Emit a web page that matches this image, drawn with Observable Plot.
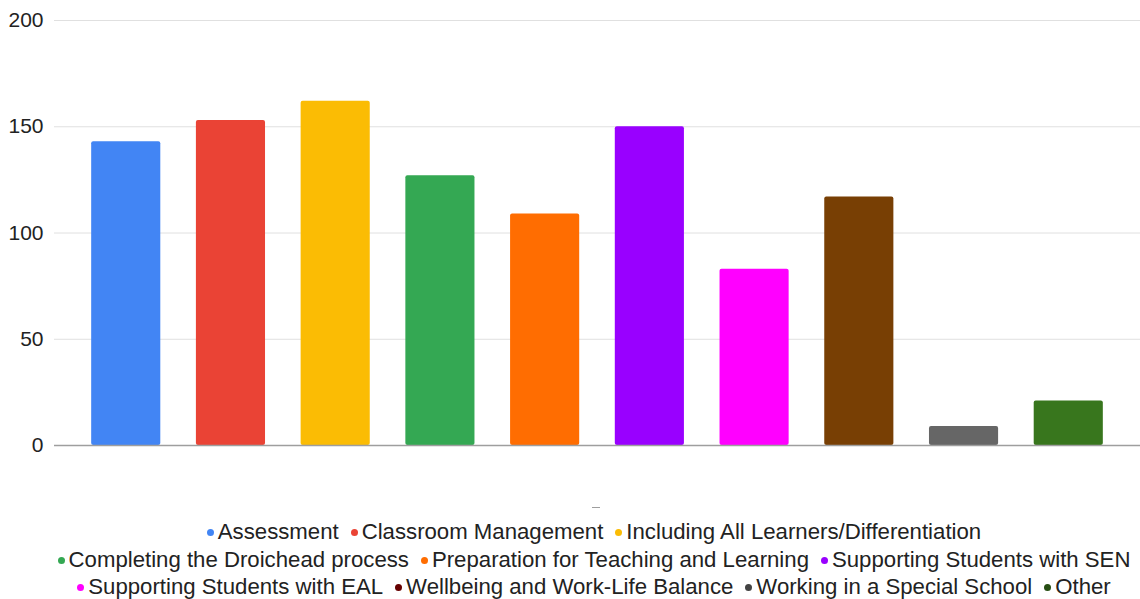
<!DOCTYPE html>
<html>
<head>
<meta charset="utf-8">
<script src="https://cdn.jsdelivr.net/npm/d3@7"></script>
<script src="https://cdn.jsdelivr.net/npm/@observablehq/plot@0.6"></script>
<style>
  html, body { margin: 0; padding: 0; background: #fff; }
  body { width: 1140px; height: 599px; overflow: hidden; font-family: "Liberation Sans", Arial, sans-serif; }
  #chart svg { display: block; }
  #dash { position: absolute; left: 592px; top: 507px; width: 8px; height: 1px; background: #9e9e9e; }
  #legend { position: absolute; left: 0; top: 518px; width: 1188px; }
  .row { display: flex; justify-content: center; height: 27.5px; line-height: 27.5px; font-size: 22.2px; color: #222; white-space: nowrap; }
  .item { display: flex; align-items: center; margin: 0 6px; }
  .dot { width: 7px; height: 7px; border-radius: 50%; margin-right: 4px; margin-top: 2px; }
</style>
</head>
<body>
<div id="chart"></div>
<div id="dash"></div>
<div id="legend"></div>
<script>
// Response counts per CPD topic
const categories = [
  "Assessment",
  "Classroom Management",
  "Including All Learners/Differentiation",
  "Completing the Droichead process",
  "Preparation for Teaching and Learning",
  "Supporting Students with SEN",
  "Supporting Students with EAL",
  "Wellbeing and Work-Life Balance",
  "Working in a Special School",
  "Other"
];
const counts = [143, 153, 162, 127, 109, 150, 83, 117, 9, 21];
const barColors = ["#4285f4", "#ea4335", "#fbbc04", "#34a853", "#ff6d01", "#9900ff", "#ff00ff", "#783f04", "#666666", "#38761d"];
const legendColors = ["#4285f4", "#ea4335", "#fbbc04", "#34a853", "#ff6d01", "#9900ff", "#ff00ff", "#660000", "#434343", "#274e13"];
const legendRows = [3, 3, 4];
const yTicks = [0, 50, 100, 150, 200];

const data = categories.map((c, i) => ({category: c, count: counts[i], color: barColors[i]}));

const chart = Plot.plot({
  width: 1140,
  height: 500,
  marginLeft: 54,
  marginRight: 0,
  marginTop: 20,
  marginBottom: 55,
  style: {fontFamily: "'Liberation Sans', Arial, sans-serif", fontSize: "21px", color: "#222", background: "#fff"},
  x: {domain: categories, paddingInner: 0.34, paddingOuter: 0.355, round: false, axis: null},
  y: {domain: [0, 200], ticks: yTicks, axis: null},
  marks: [
    Plot.gridY(yTicks, {stroke: "#e0e0e0", strokeOpacity: 1, strokeWidth: 1}),
    Plot.axisY(yTicks, {tickSize: 0, tickPadding: 11, fontSize: 21, fill: "#222", label: null}),
    Plot.barY(data, {x: "category", y: "count", fill: "color", rx: 2}),
    Plot.ruleY([0], {stroke: "#9e9e9e", strokeWidth: 1.5})
  ]
});
document.getElementById("chart").appendChild(chart);

// Legend rows below the plot
const legend = document.getElementById("legend");
let k = 0;
for (const n of legendRows) {
  const row = document.createElement("div");
  row.className = "row";
  for (let j = 0; j < n; j++, k++) {
    const item = document.createElement("span");
    item.className = "item";
    const dot = document.createElement("span");
    dot.className = "dot";
    dot.style.background = legendColors[k];
    const label = document.createElement("span");
    label.textContent = categories[k];
    item.appendChild(dot);
    item.appendChild(label);
    row.appendChild(item);
  }
  legend.appendChild(row);
}
</script>
</body>
</html>
